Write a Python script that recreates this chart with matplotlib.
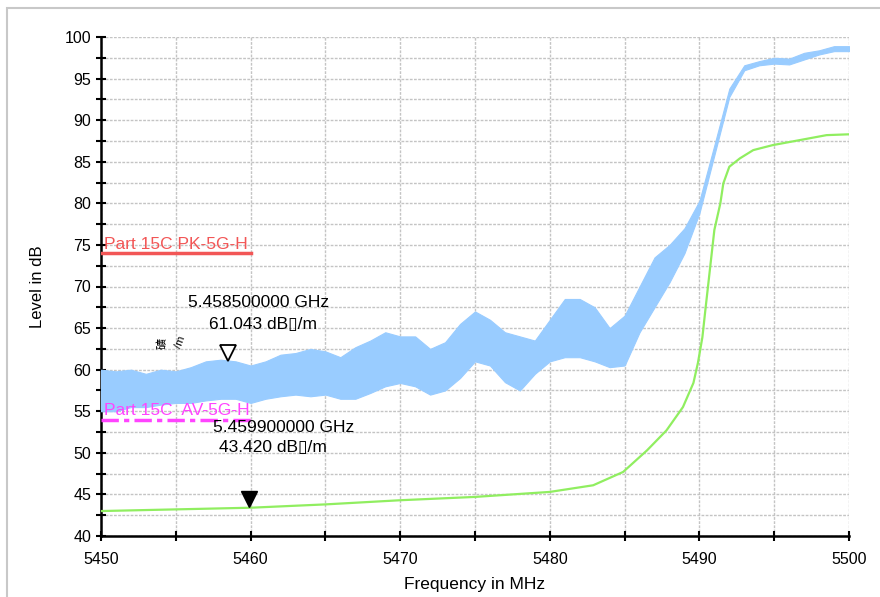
import numpy as np
import matplotlib
matplotlib.use("Agg")
import matplotlib.pyplot as plt
from matplotlib.ticker import MultipleLocator
from matplotlib.patches import Rectangle

plt.rcParams['font.family'] = ['Liberation Sans', 'DejaVu Sans', 'Noto Sans CJK SC']

# --- peak trace (read as upper / lower envelope of the noisy trace, 1 MHz steps) ---
pk_freq = list(range(5450, 5501))
pk_hi = [60.0, 59.8, 60.0, 59.5, 60.0, 59.8, 60.3, 61.0, 61.2, 61.0,
         60.5, 61.0, 61.8, 62.0, 62.5, 62.2, 61.5, 62.7, 63.5, 64.5,
         64.0, 64.0, 62.5, 63.3, 65.5, 67.0, 66.0, 64.5, 64.0, 63.5,
         66.0, 68.5, 68.5, 67.5, 65.0, 66.5, 70.0, 73.5, 75.0, 77.0,
         80.3, 87.0, 93.8, 96.6, 97.1, 97.5, 97.4, 98.1, 98.4, 98.9, 98.9]
pk_lo = [55.0, 55.0, 55.5, 55.5, 55.8, 56.0, 56.0, 56.3, 56.5, 56.5,
         56.0, 56.5, 56.8, 57.0, 56.8, 57.0, 56.5, 56.5, 57.2, 58.0,
         58.4, 58.0, 57.0, 57.5, 59.0, 61.0, 60.5, 58.5, 57.5, 59.5,
         61.0, 61.5, 61.5, 61.0, 60.3, 60.5, 64.5, 67.5, 70.5, 74.0,
         78.8, 85.8, 92.8, 96.0, 96.6, 96.8, 96.7, 97.3, 97.9, 98.3, 98.3]

# --- average trace ---
av_freq = [5450, 5455, 5460, 5465, 5470, 5475, 5480, 5482.9, 5484.9, 5486.5,
           5487.8, 5488.9, 5489.6, 5489.9, 5490.2, 5490.4, 5490.7, 5491.0,
           5491.4, 5491.6, 5492.0, 5492.7, 5493.6, 5494.9, 5496.7, 5498.5, 5500]
av_level = [43.0, 43.2, 43.4, 43.8, 44.3, 44.7, 45.3, 46.1, 47.7, 50.3,
            52.7, 55.5, 58.4, 60.8, 63.9, 67.2, 72.0, 76.8,
            80.0, 82.4, 84.4, 85.4, 86.4, 87.0, 87.6, 88.2, 88.3]

# --- limit lines ---
pk_limit = 74.0
av_limit = 54.0
limit_span = [5450, 5460]

# --- markers ---
mk1_freq, mk1_level = 5458.5, 61.043
mk2_freq, mk2_level = 5459.9, 43.420

fig = plt.figure(figsize=(8.8, 5.97), dpi=100)
ax = fig.add_axes([101/880, 1 - 536/597, 748/880, 499/597])

# grey frame around the plot area
fig.patches.append(Rectangle((7/880, -0.05), 1.1, 1 - 8/597 + 0.05, transform=fig.transFigure,
                             fill=False, edgecolor='#c8c8c8', linewidth=1.5))

ax.fill_between(pk_freq, pk_lo, pk_hi, color='#99ccff', linewidth=0.8, edgecolor='#99ccff', zorder=3)
ax.plot(av_freq, av_level, color='#90ee60', linewidth=1.6, zorder=4)

ax.plot(limit_span, [pk_limit, pk_limit], color='#f25656', linewidth=2.5, zorder=5)
ax.plot(limit_span, [av_limit, av_limit], color='#ff44ff', linewidth=2.5,
        linestyle=(0, (5, 1.5, 1.5, 1.5)), zorder=5)
ax.text(5450.2, pk_limit + 0.2, 'Part 15C PK-5G-H', color='#f25656', fontsize=12.5,
        va='bottom', ha='left', zorder=6)
ax.text(5450.2, av_limit + 0.2, 'Part 15C  AV-5G-H', color='#ff44ff', fontsize=12.5,
        va='bottom', ha='left', zorder=6)

# markers
ax.plot(mk1_freq, 62.0, marker='v', markersize=11, markerfacecolor='white',
        markeredgecolor='black', markeredgewidth=1.3, zorder=7)
ax.plot(mk2_freq, 44.5, marker='v', markersize=11, color='black', zorder=7)
ax.text(5460.5, 68.1, f'{mk1_freq/1000:.9f} GHz', fontsize=12.5, ha='center', va='center', zorder=8)
ax.text(5460.8, 65.4, f'{mk1_level:.3f} dB\u25af/m', fontsize=12.5, ha='center', va='center', zorder=8)
ax.text(5462.2, 53.1, f'{mk2_freq/1000:.9f} GHz', fontsize=12.5, ha='center', va='center', zorder=8)
ax.text(5461.5, 50.6, f'{mk2_level:.3f} dB\u25af/m', fontsize=12.5, ha='center', va='center', zorder=8)
ax.text(5454.1, 63.2, '礦', fontsize=8, rotation=90, ha='center', va='center',
        family=['Noto Sans CJK SC'])
ax.text(5455.3, 63.3, '/m', fontsize=8, rotation=70, ha='center', va='center')

ax.set_xlim(5450, 5500)
ax.set_ylim(40, 100)
ax.xaxis.set_major_locator(MultipleLocator(10))
ax.xaxis.set_minor_locator(MultipleLocator(5))
ax.yaxis.set_major_locator(MultipleLocator(5))
ax.yaxis.set_minor_locator(MultipleLocator(2.5))
ax.tick_params(which='both', direction='inout', length=7, width=1.5, labelsize=11.5)
ax.tick_params(axis='x', pad=8)
ax.grid(which='both', color='#c4c4c4', linestyle=(0, (2, 1)), linewidth=1, zorder=0)
ax.set_axisbelow(True)

for s in ['top', 'right']:
    ax.spines[s].set_visible(False)
for s in ['left', 'bottom']:
    ax.spines[s].set_linewidth(1.8)

ax.set_xlabel('Frequency in MHz', fontsize=12.5, labelpad=7)
ax.set_ylabel('Level in dB', fontsize=12, labelpad=14)

plt.savefig('out.png', dpi=100)
